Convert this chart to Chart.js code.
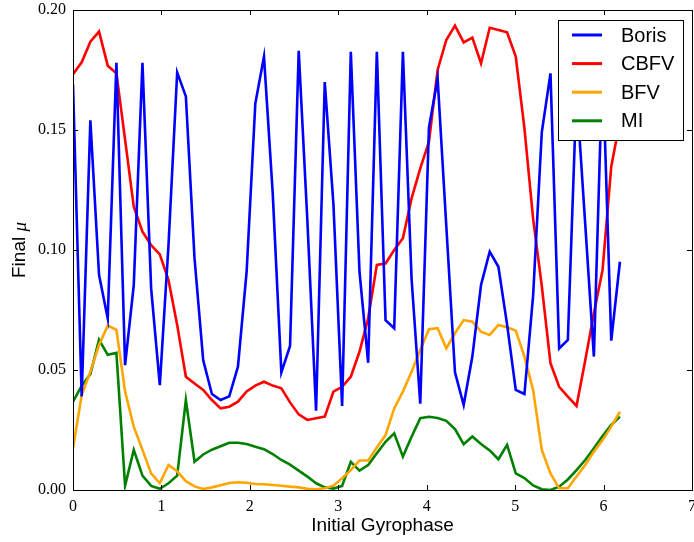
<!DOCTYPE html>
<html>
<head>
<meta charset="utf-8">
<script src="https://cdn.jsdelivr.net/npm/chart.js@4.4.1/dist/chart.umd.min.js"></script>
<style>
  html, body { margin: 0; padding: 0; background: #fff; }
</style>
</head>
<body>
<canvas id="chart" width="694" height="542"></canvas>

<script>
// initial gyrophase samples (64 points over 0..2pi)
var phase = [
  0, 0.0982, 0.1963, 0.2945, 0.3927, 0.4909, 0.5890, 0.6872, 0.7854, 0.8836,
  0.9817, 1.0799, 1.1781, 1.2763, 1.3744, 1.4726, 1.5708, 1.6690, 1.7671, 1.8653,
  1.9635, 2.0617, 2.1598, 2.2580, 2.3562, 2.4544, 2.5525, 2.6507, 2.7489, 2.8471,
  2.9452, 3.0434, 3.1416, 3.2398, 3.3379, 3.4361, 3.5343, 3.6325, 3.7306, 3.8288,
  3.9270, 4.0252, 4.1233, 4.2215, 4.3197, 4.4179, 4.5160, 4.6142, 4.7124, 4.8106,
  4.9087, 5.0069, 5.1051, 5.2033, 5.3014, 5.3996, 5.4978, 5.5960, 5.6941, 5.7923,
  5.8905, 5.9887, 6.0868, 6.1850
];

var boris = [
  0.169, 0.039, 0.154, 0.0896, 0.0715, 0.178, 0.052, 0.0854, 0.178, 0.084,
  0.0437, 0.102, 0.174, 0.164, 0.0965, 0.054, 0.040, 0.0375, 0.039, 0.0514,
  0.091, 0.161, 0.1806, 0.124, 0.049, 0.060, 0.183, 0.112, 0.033, 0.170,
  0.119, 0.035, 0.1826, 0.091, 0.053, 0.1826, 0.0708, 0.0674, 0.1826, 0.088,
  0.036, 0.151, 0.1715, 0.110, 0.049, 0.0354, 0.0556, 0.0854, 0.0993, 0.093,
  0.069, 0.0417, 0.040, 0.081, 0.149, 0.1736, 0.059, 0.0625, 0.166, 0.111,
  0.0556, 0.178, 0.0622, 0.0951
];

var cbfv = [
  0.1732, 0.1782, 0.1868, 0.191, 0.1768, 0.1736, 0.146, 0.118, 0.1076, 0.102,
  0.0982, 0.0875, 0.0688, 0.0472, 0.0444, 0.0417, 0.0375, 0.0340, 0.0347, 0.0368,
  0.0411, 0.0435, 0.0451, 0.0435, 0.0424, 0.0365, 0.0315, 0.0292, 0.0299, 0.0306,
  0.041, 0.043, 0.0472, 0.0576, 0.0715, 0.0938, 0.0944, 0.100, 0.1049, 0.1215,
  0.134, 0.145, 0.175, 0.1875, 0.1935, 0.1865, 0.1885, 0.1778, 0.1926, 0.1917,
  0.1907, 0.1806, 0.1507, 0.113, 0.085, 0.0528, 0.043, 0.0389, 0.035, 0.054,
  0.0736, 0.0917, 0.1347, 0.154
];

var bfv = [
  0.0174, 0.0396, 0.0493, 0.0604, 0.0685, 0.0667, 0.041, 0.0264, 0.0167, 0.0069,
  0.0028, 0.0104, 0.0078, 0.0037, 0.0015, 0.0004, 0.0011, 0.0020, 0.0029, 0.0032,
  0.0030, 0.0025, 0.0024, 0.0021, 0.0018, 0.0014, 0.0011, 0.0005, 0.0003, 0.0007,
  0.0018, 0.0049, 0.0083, 0.0123, 0.0123, 0.0177, 0.0229, 0.034, 0.041, 0.0493,
  0.0583, 0.067, 0.0674, 0.059, 0.0653, 0.0708, 0.0701, 0.066, 0.0646, 0.0688,
  0.0678, 0.0664, 0.0556, 0.0417, 0.0167, 0.0069, 0.0007, 0.0007, 0.0056, 0.0104,
  0.016, 0.0208, 0.0264, 0.0326
];

var mi = [
  0.0368, 0.0434, 0.0483, 0.0626, 0.0563, 0.0571, 0.0018, 0.0167, 0.0060, 0.0017,
  0.0005, 0.0028, 0.0060, 0.0375, 0.0118, 0.0148, 0.0168, 0.0182, 0.0197, 0.0197,
  0.0192, 0.0180, 0.0170, 0.0150, 0.0125, 0.0106, 0.0081, 0.0056, 0.0028, 0.0011,
  0.0006, 0.0017, 0.0117, 0.0081, 0.0104, 0.0153, 0.0201, 0.0236, 0.0139, 0.0222,
  0.0299, 0.0305, 0.0300, 0.0288, 0.0254, 0.0191, 0.0223, 0.0192, 0.0165, 0.0128,
  0.0188, 0.0069, 0.0050, 0.0019, 0.0003, 0.0000, 0.0014, 0.0044, 0.0083, 0.0125,
  0.0174, 0.0225, 0.0271, 0.0306
];

var xTicks = [0, 1, 2, 3, 4, 5, 6, 7];
var yTicks = [0, 0.05, 0.10, 0.15, 0.20];

function pts(ys) {
  return ys.map(function(y, i) { return { x: phase[i], y: y }; });
}

var series = [
  { label: 'Boris', data: boris, color: '#0000ff' },
  { label: 'CBFV',  data: cbfv,  color: '#ff0000' },
  { label: 'BFV',   data: bfv,   color: '#ffa500' },
  { label: 'MI',    data: mi,    color: '#008000' }
];

// box round the plot with inward ticks, like matplotlib classic
var framePlugin = {
  id: 'frame',
  afterDatasetsDraw: function(chart) {
    var ctx = chart.ctx, a = chart.chartArea;
    var xs = chart.scales.x, ys = chart.scales.y;
    ctx.save();
    ctx.strokeStyle = '#000';
    ctx.lineWidth = 1;
    ctx.strokeRect(Math.round(a.left) + 0.5, Math.round(a.top) + 0.5,
                   Math.round(a.right - a.left), Math.round(a.bottom - a.top));
    ctx.beginPath();
    xTicks.forEach(function(v) {
      var px = Math.round(xs.getPixelForValue(v)) + 0.5;
      ctx.moveTo(px, a.bottom); ctx.lineTo(px, a.bottom - 5);
      ctx.moveTo(px, a.top); ctx.lineTo(px, a.top + 5);
    });
    yTicks.forEach(function(v) {
      var py = Math.round(ys.getPixelForValue(v)) + 0.5;
      ctx.moveTo(a.left, py); ctx.lineTo(a.left + 5, py);
      ctx.moveTo(a.right, py); ctx.lineTo(a.right - 5, py);
    });
    ctx.stroke();

    // y axis title: "Final " + italic mu
    ctx.translate(20, (a.top + a.bottom) / 2);
    ctx.rotate(-Math.PI / 2);
    ctx.fillStyle = '#000';
    ctx.textBaseline = 'middle';
    ctx.font = '19px "Liberation Sans", Arial, sans-serif';
    var t1 = 'Final ';
    ctx.font = '19px "Liberation Sans", Arial, sans-serif';
    var w1 = ctx.measureText(t1).width;
    ctx.font = 'italic 19px "Liberation Serif", serif';
    var w2 = ctx.measureText('\u03bc').width;
    var x0 = -(w1 + w2) / 2;
    ctx.font = '19px "Liberation Sans", Arial, sans-serif';
    ctx.textAlign = 'left';
    ctx.fillText(t1, x0, 0);
    ctx.font = 'italic 19px "Liberation Serif", serif';
    ctx.fillText('\u03bc', x0 + w1, 1);
    ctx.restore();
  }
};

// legend box in the upper right corner
var legendPlugin = {
  id: 'boxLegend',
  afterDraw: function(chart) {
    var ctx = chart.ctx;
    var bx = 558.5, by = 20.5, bw = 125, bh = 120;
    ctx.save();
    ctx.fillStyle = '#fff';
    ctx.fillRect(bx, by, bw, bh);
    ctx.strokeStyle = '#000';
    ctx.lineWidth = 1;
    ctx.strokeRect(bx, by, bw, bh);
    ctx.font = '20px "Liberation Sans", Arial, sans-serif';
    ctx.textBaseline = 'middle';
    ctx.textAlign = 'left';
    series.forEach(function(s, i) {
      var y = 35 + i * 28.6;
      ctx.strokeStyle = s.color;
      ctx.lineWidth = 3;
      ctx.beginPath();
      ctx.moveTo(572, y);
      ctx.lineTo(602, y);
      ctx.stroke();
      ctx.fillStyle = '#000';
      ctx.fillText(s.label, 621, y + 1);
    });
    ctx.restore();
  }
};

var config = {
  type: 'line',
  data: {
    datasets: series.map(function(s) {
      return {
        label: s.label,
        data: pts(s.data),
        borderColor: s.color,
        backgroundColor: s.color,
        borderWidth: 2.6,
        pointRadius: 0,
        tension: 0,
        fill: false
      };
    })
  },
  options: {
    responsive: false,
    animation: false,
    devicePixelRatio: 1,
    layout: { padding: { top: 10, right: 2, left: 0, bottom: 0 } },
    plugins: {
      legend: { display: false },
      tooltip: { enabled: false }
    },
    scales: {
      x: {
        type: 'linear',
        min: 0, max: 7,
        grid: { display: false, drawTicks: false },
        border: { display: false },
        afterBuildTicks: function(s) { s.ticks = xTicks.map(function(v) { return { value: v }; }); },
        afterFit: function(s) { s.height = 52; s.paddingLeft = 0; s.paddingRight = 0; },
        ticks: {
          padding: 7,
          color: '#000',
          font: { family: '"Liberation Serif", "DejaVu Serif", serif', size: 16 },
          callback: function(v) { return String(v); }
        },
        title: {
          display: true,
          text: 'Initial Gyrophase',
          color: '#000',
          font: { family: '"Liberation Sans", Arial, sans-serif', size: 19 },
          padding: { top: 0, bottom: 5 }
        }
      },
      y: {
        type: 'linear',
        min: 0, max: 0.2,
        grid: { display: false, drawTicks: false },
        border: { display: false },
        afterBuildTicks: function(s) { s.ticks = yTicks.map(function(v) { return { value: v }; }); },
        afterFit: function(s) { s.width = 73; s.paddingTop = 0; s.paddingBottom = 0; },
        ticks: {
          padding: 7,
          color: '#000',
          font: { family: '"Liberation Serif", "DejaVu Serif", serif', size: 16 },
          callback: function(v) { return Number(v).toFixed(2); }
        }
      }
    }
  },
  plugins: [framePlugin, legendPlugin]
};

window.onload = function() {
  var ctx = document.getElementById('chart').getContext('2d');
  window.gyroChart = new Chart(ctx, config);
};
</script>
</body>
</html>
